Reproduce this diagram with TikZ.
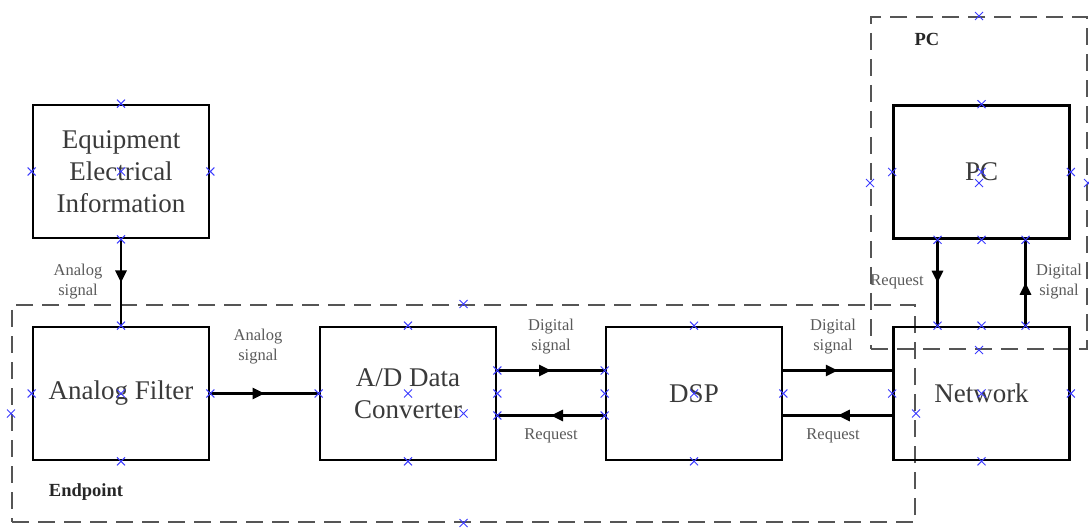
\documentclass[tikz,border=0pt]{standalone}
\usepackage{fontspec}
\setmainfont{Liberation Serif}
\usetikzlibrary{arrows.meta,decorations.markings}

\definecolor{boxtext}{HTML}{3A3A3A}
\definecolor{labeltext}{HTML}{5A5A5A}
\definecolor{dashgray}{HTML}{555555}
\definecolor{cptblue}{HTML}{3C3CFF}

\begin{document}
\begin{tikzpicture}[x=1pt,y=-1pt,
  block/.style={draw,line width=2.6pt,minimum width=176pt,minimum height=133pt,align=center,text=boxtext,font=\fontsize{27}{32}\selectfont},
  group/.style={draw=dashgray,line width=2pt,dash pattern=on 17pt off 9pt},
  sig/.style={line width=2.6pt,postaction={decorate},decoration={markings,mark=at position 0.5 with {\arrow{Triangle[length=12pt,width=11pt]}}}},
  lbl/.style={text=labeltext,align=center,font=\fontsize{16.5}{20}\selectfont},
  tag/.style={text=black!85,font=\bfseries\fontsize{18.5}{22}\selectfont},
  cpt/.style={draw=cptblue,line width=1pt}]
  \useasboundingbox (0,0) rectangle (1089,529);
  \node[group,minimum width=903pt,minimum height=217pt] (endpt) at (463.5,413.5) {};
  \node[group,minimum width=216pt,minimum height=332pt] (pcgrp) at (979,183) {};
  \node[tag] (pctag) at (927,39) {PC};
  \node[tag] (eptag) at (86,492) {Endpoint};

  \node[block] (equip) at (121,171.5) {Equipment\\Electrical\\Information};
  \node[block] (filter) at (121,393.5) {Analog Filter};
  \node[block] (ad) at (408,393.5) {A/D Data\\Converter};
  \node[block] (dsp) at (694,393.5) {DSP};
  \node[block] (net) at (981.5,393.5) {Network};
  \node[block] (pc) at (981.5,172) {PC};

  \draw[sig] (equip.south) -- (filter.north);
  \draw[sig] (filter.east) -- (ad.west);
  \draw[sig] ([yshift=23pt]ad.east) -- ([yshift=23pt]dsp.west);
  \draw[sig] ([yshift=-22pt]dsp.west) -- ([yshift=-22pt]ad.east);
  \draw[sig] ([yshift=23pt]dsp.east) -- ([yshift=23pt]net.west);
  \draw[sig] ([yshift=-22pt]net.west) -- ([yshift=-22pt]dsp.east);
  \draw[sig] ([xshift=-44pt]pc.south) -- ([xshift=-44pt]net.north);
  \draw[sig] ([xshift=44pt]net.north) -- ([xshift=44pt]pc.south);

  \node[lbl] (l1) at (78,282) {Analog\\signal};
  \node[lbl] (l2) at (258,347) {Analog\\signal};
  \node[lbl] (l3) at (551,337) {Digital\\signal};
  \node[lbl] (l4) at (551,436) {Request};
  \node[lbl] (l5) at (833,337) {Digital\\signal};
  \node[lbl] (l6) at (833,436) {Request};
  \node[lbl] (l7) at (897,282) {Request};
  \node[lbl] (l8) at (1059,282) {Digital\\signal};

  % connection points
  \foreach \b in {equip,filter,ad,dsp,net,pc,endpt,pcgrp}
    \foreach \a in {north,south,east,west,center}
      \draw[cpt] (\b.\a) +(-4,-4) -- +(4,4) +(-4,4) -- +(4,-4);
  \foreach \p in {([yshift=23pt]ad.east),([yshift=-22pt]ad.east),([yshift=23pt]dsp.west),([yshift=-22pt]dsp.west),
                  ([xshift=-44pt]pc.south),([xshift=44pt]pc.south),([xshift=-44pt]net.north),([xshift=44pt]net.north)}
    \draw[cpt] \p +(-4,-4) -- +(4,4) +(-4,4) -- +(4,-4);
\end{tikzpicture}
\end{document}
